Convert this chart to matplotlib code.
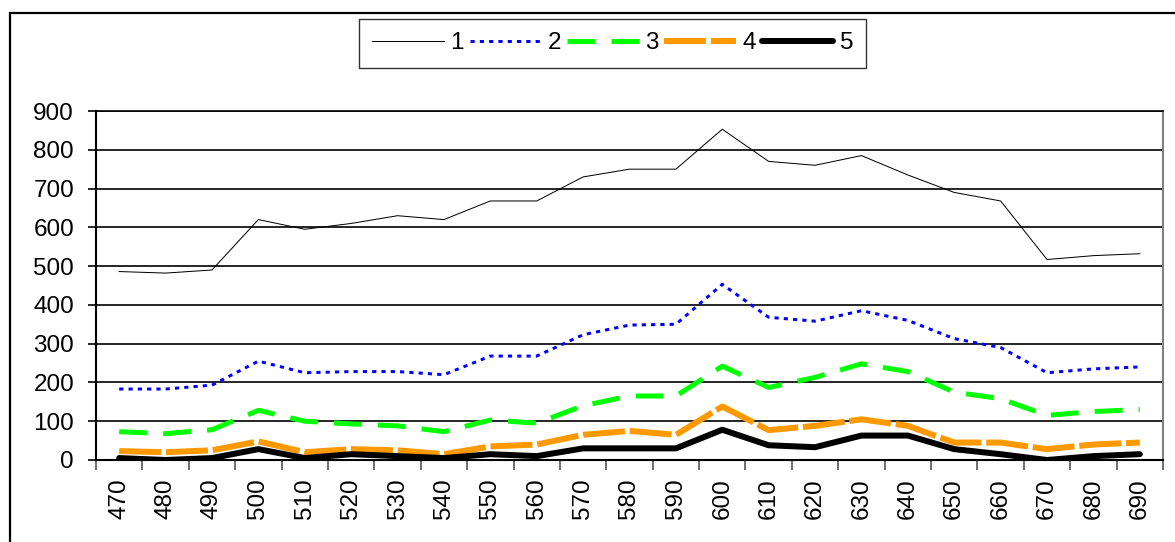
import matplotlib.pyplot as plt
from matplotlib.patches import Rectangle
import numpy as np

plt.rcParams['font.family'] = ['Liberation Sans', 'DejaVu Sans']

# wavelengths on the category axis
wavelengths = [470, 480, 490, 500, 510, 520, 530, 540, 550, 560, 570, 580,
               590, 600, 610, 620, 630, 640, 650, 660, 670, 680, 690]

s1 = [486, 482, 490, 620, 595, 610, 630, 620, 668, 668, 730, 750,
      750, 853, 770, 760, 785, 735, 690, 668, 517, 527, 532]
s2 = [183, 183, 193, 255, 225, 228, 228, 220, 268, 268, 323, 348,
      350, 453, 368, 358, 385, 360, 313, 290, 225, 235, 240]
s3 = [73, 68, 78, 128, 100, 93, 88, 73, 103, 95, 140, 165,
      165, 242, 187, 213, 248, 228, 175, 158, 115, 125, 130]
s4 = [23, 20, 25, 48, 20, 28, 25, 15, 35, 40, 65, 75,
      65, 138, 77, 88, 105, 88, 45, 45, 28, 40, 45]
s5 = [5, 0, 5, 28, 5, 15, 10, 5, 15, 10, 30, 30,
      30, 78, 38, 33, 63, 63, 28, 15, 0, 10, 15]

labels = ['1', '2', '3', '4', '5']
yticks = [0, 100, 200, 300, 400, 500, 600, 700, 800, 900]

W, H = 1175, 542
fig = plt.figure(figsize=(W / 100, H / 100), dpi=100)
ax = fig.add_axes([96 / W, 1 - 460 / H, (1163 - 96) / W, (460 - 111) / H])

x = np.arange(len(wavelengths))
px = 0.72  # one pixel in points

ax.plot(x, s1, color='black', lw=1.0 * px, label=labels[0])
ax.plot(x, s2, color='#0000FF', lw=3 * px, dashes=(1.4, 1.7), label=labels[1])
ax.plot(x, s3, color='#00FF00', lw=5 * px, dashes=(5.6, 3.2), label=labels[2])
ax.plot(x, s4, color='#FF9900', lw=6 * px, dashes=(7, 0.8), label=labels[3])
ax.plot(x, s5, color='black', lw=6 * px, solid_capstyle='round', label=labels[4])

ax.set_xlim(-0.5, len(wavelengths) - 0.5)
ax.set_ylim(0, 900)
ax.set_yticks(yticks)
ax.set_xticks(x)
ax.set_xticklabels([str(w) for w in wavelengths], rotation=90)
ax.set_xticks(np.arange(-0.5, len(wavelengths)), minor=True)

ax.tick_params(axis='y', direction='out', length=8 * px, width=1.2,
               pad=10, labelsize=17.5)
ax.tick_params(axis='x', which='major', length=0, pad=13, labelsize=17.5)
ax.tick_params(axis='x', which='minor', direction='out', length=10 * px,
               width=1.2, color='#555555')

ax.yaxis.grid(True, color='black', lw=1.2)
ax.set_axisbelow(True)
for side in ['left', 'bottom']:
    ax.spines[side].set_color('black')
    ax.spines[side].set_linewidth(1.5)
ax.spines['right'].set_color('#808080')
ax.spines['right'].set_linewidth(1.5)
ax.spines['top'].set_linewidth(1.2)

leg = fig.legend(loc='upper left', bbox_to_anchor=(359 / W, 1 - 19 / H),
                 ncol=5, fontsize=17.5, handlelength=2.95, handletextpad=0.25,
                 columnspacing=0.25, borderpad=0.55, fancybox=False,
                 frameon=True, edgecolor='black', borderaxespad=0)
leg.get_frame().set_linewidth(1.0)

# chart frame: only its left and top edges fall inside the image
fig.add_artist(Rectangle((10 / W, -0.1), 1.2, 1.1 - 13 / H,
                         transform=fig.transFigure, fill=False,
                         edgecolor='black', lw=1.6))

fig.savefig('out.png', dpi=100)
